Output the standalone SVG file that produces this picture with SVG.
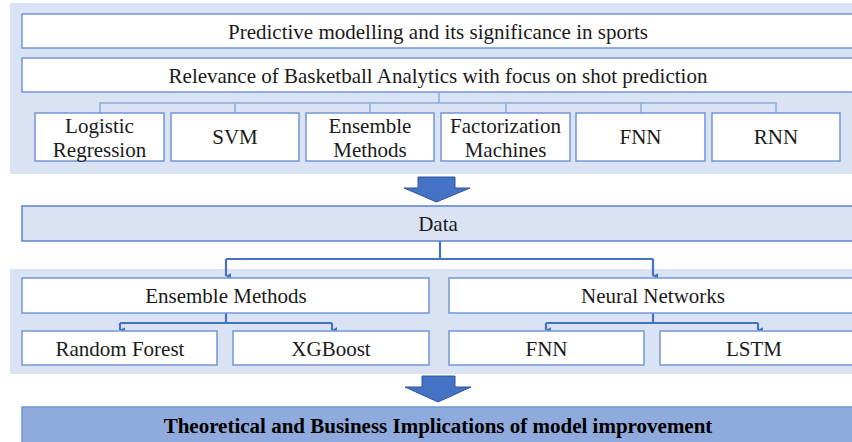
<svg xmlns="http://www.w3.org/2000/svg" width="852" height="442" viewBox="0 0 852 442">
<style>
.panel{fill:#dae3f3;stroke:none}
.box{fill:#ffffff;stroke:#7196d9;stroke-width:1.5}
.dbox{fill:#dae3f3;stroke:#5a82cf;stroke-width:1.5}
.bbox{fill:#8faadc;stroke:#6f93d6;stroke-width:1.5}
.t{font-family:"Liberation Serif","Times New Roman",serif;font-size:21px;fill:#1a1a1a;text-anchor:middle}
.b{font-weight:bold;font-size:21px;fill:#000}
.thin{fill:none;stroke:#8faadc;stroke-width:1.5}
.conn{fill:none;stroke:#4472c4;stroke-width:2.2}
.big{fill:#4472c4;stroke:#2f5597;stroke-width:1}
</style>
<defs>
<marker id="ah" viewBox="0 0 10 10" refX="5" refY="9" markerWidth="8" markerHeight="6" markerUnits="userSpaceOnUse" orient="auto-start-reverse">
<path d="M0,0 L10,0 L5,10 Z" fill="#4472c4"/>
</marker>
</defs>
<rect class="panel" x="10" y="3" width="850" height="171"/>
<rect class="panel" x="10" y="269" width="850" height="105"/>

<g id="n-predictive"><rect class="box" x="22" y="14" width="840" height="34"/><text class="t" x="438" y="38.5">Predictive modelling and its significance in sports</text></g>
<g id="n-relevance"><rect class="box" x="22" y="58" width="840" height="34"/><text class="t" x="438" y="82.5">Relevance of Basketball Analytics with focus on shot prediction</text></g>

<g id="connectors">
<path class="thin" d="M439,92 V103 M100,113 V103 H776 V113 M235,103 V113 M370,103 V113 M506,103 V113 M641,103 V113"/>
<path class="conn" d="M440,241 V259 M226,259 H653" />
<path class="conn" d="M226,259 V276" marker-end="url(#ah)"/>
<path class="conn" d="M653,259 V276" marker-end="url(#ah)"/>
<path class="conn" d="M226,313 V323 M120,323 H332 M546,323 H758 M653,313 V323"/>
<path class="conn" d="M120,323 V330" marker-end="url(#ah)"/>
<path class="conn" d="M332,323 V330" marker-end="url(#ah)"/>
<path class="conn" d="M546,323 V330" marker-end="url(#ah)"/>
<path class="conn" d="M758,323 V330" marker-end="url(#ah)"/>
<path class="big" d="M418,177 H455 V188 H470 L436.5,202 L404,188 H418 Z"/>
<path class="big" d="M422,376 H455 V387 H471 L438,402 L405,387 H422 Z"/>
</g>

<g id="n-logistic"><rect class="box" x="35" y="113" width="129" height="48"/><text class="t" x="99.5" y="133">Logistic</text><text class="t" x="99.5" y="157">Regression</text></g>
<g id="n-svm"><rect class="box" x="171" y="113" width="128" height="48"/><text class="t" x="235" y="144">SVM</text></g>
<g id="n-ensemble1"><rect class="box" x="306" y="113" width="128" height="48"/><text class="t" x="370" y="133">Ensemble</text><text class="t" x="370" y="157">Methods</text></g>
<g id="n-fm"><rect class="box" x="441" y="113" width="129" height="48"/><text class="t" x="505.5" y="133">Factorization</text><text class="t" x="505.5" y="157">Machines</text></g>
<g id="n-fnn1"><rect class="box" x="576" y="113" width="129" height="48"/><text class="t" x="640.5" y="144">FNN</text></g>
<g id="n-rnn"><rect class="box" x="712" y="113" width="128" height="48"/><text class="t" x="776" y="144">RNN</text></g>

<g id="n-data"><rect class="dbox" x="22" y="206" width="840" height="35"/><text class="t" x="438" y="230.5">Data</text></g>

<g id="n-ensemble2"><rect class="box" x="22" y="278" width="407" height="35"/><text class="t" x="226" y="302.5">Ensemble Methods</text></g>
<g id="n-neural"><rect class="box" x="449" y="278" width="413" height="35"/><text class="t" x="653" y="302.5">Neural Networks</text></g>

<g id="n-rf"><rect class="box" x="22" y="331" width="195" height="34"/><text class="t" x="120" y="355.5">Random Forest</text></g>
<g id="n-xgb"><rect class="box" x="233" y="331" width="196" height="34"/><text class="t" x="331" y="355.5">XGBoost</text></g>
<g id="n-fnn2"><rect class="box" x="449" y="331" width="195" height="34"/><text class="t" x="546.5" y="355.5">FNN</text></g>
<g id="n-lstm"><rect class="box" x="660" y="331" width="202" height="34"/><text class="t" x="754" y="355.5">LSTM</text></g>

<g id="n-implications"><rect class="bbox" x="22" y="407" width="840" height="40"/><text class="t b" x="438" y="432.5">Theoretical and Business Implications of model improvement</text></g>
</svg>
